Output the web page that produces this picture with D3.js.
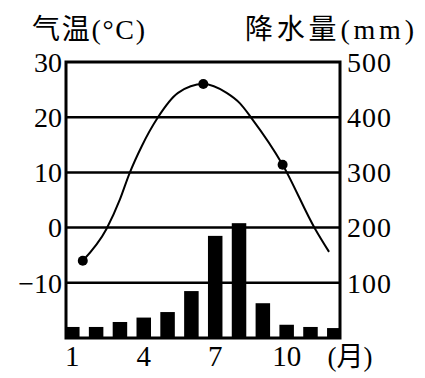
<!DOCTYPE html>
<html>
<head>
<meta charset="utf-8">
<script src="https://cdn.jsdelivr.net/npm/d3@7"></script>
<style>
  body { margin: 0; background: white; }
  text { font-family: "Liberation Serif", "Noto Sans CJK SC", serif; }
</style>
</head>
<body>
<div id="canvas"></div>
<script>
"use strict"

/* data: monthly precipitation (mm) */
let months = [1, 2, 3, 4, 5, 6, 7, 8, 9, 10, 11, 12];
let precip = [20, 20, 29, 37, 47, 85, 185, 208, 63, 24, 20, 18];

/* temperature curve (month position, deg C) */
let curveMonth = [1.44, 2.44, 3.0, 3.39, 3.91, 4.57, 5.44, 6.5, 7.48, 8.04, 8.53, 9.83, 11.19, 11.78];
let curveTemp = [-6, -0.2, 5.1, 9.7, 14.7, 19.8, 24.4, 26, 24.4, 22.5, 19.8, 11.4, -0.2, -4.4];

/* marked points on the curve */
let dotMonth = [1.44, 6.5, 9.83];
let dotTemp = [-6, 26, 11.4];

/* tick labels */
let tempTicks = [30, 20, 10, 0, -10];
let precipTicks = [500, 400, 300, 200, 100];
let monthTicks = [1, 4, 7, 10];

/* drawing config */
let svgWidth = 425;
let svgHeight = 378;
let plotLeft = 66, plotRight = 340, plotTop = 62, plotBottom = 338;

let svg = d3.select("#canvas")
    .append("svg")
    .attr("width", svgWidth)
    .attr("height", svgHeight);

/* scales */
let xScale = d3.scaleLinear()
    .domain([1, 12])
    .range([72.3, 334.3]);

let tScale = d3.scaleLinear()
    .domain([-20, 30])
    .range([plotBottom, plotTop]);

let pScale = d3.scaleLinear()
    .domain([0, 500])
    .range([plotBottom, plotTop]);

/* clip for the bars */
svg.append("clipPath")
    .attr("id", "plotClip")
    .append("rect")
    .attr("x", plotLeft)
    .attr("y", plotTop)
    .attr("width", plotRight - plotLeft)
    .attr("height", plotBottom - plotTop);

/* precipitation bars */
let barWidth = 14.5;
svg.append("g")
    .attr("clip-path", "url(#plotClip)")
    .selectAll("rect")
    .data(months)
    .join("rect")
    .attr("x", (m) => xScale(m) - barWidth / 2)
    .attr("y", (m, i) => pScale(precip[i]))
    .attr("width", barWidth)
    .attr("height", (m, i) => plotBottom - pScale(precip[i]))
    .attr("fill", "black");

/* horizontal grid lines */
svg.selectAll(".grid")
    .data([20, 10, 0, -10])
    .join("line")
    .attr("class", "grid")
    .attr("x1", plotLeft)
    .attr("x2", plotRight)
    .attr("y1", (t) => tScale(t))
    .attr("y2", (t) => tScale(t))
    .attr("stroke", "black")
    .attr("stroke-width", 2.5);

/* frame */
svg.append("rect")
    .attr("x", plotLeft)
    .attr("y", plotTop)
    .attr("width", plotRight - plotLeft)
    .attr("height", plotBottom - plotTop)
    .attr("fill", "none")
    .attr("stroke", "black")
    .attr("stroke-width", 3);

/* temperature curve */
let curvePoints = curveMonth.map((m, i) => [m, curveTemp[i]]);
let line = d3.line()
    .x((d) => xScale(d[0]))
    .y((d) => tScale(d[1]))
    .curve(d3.curveMonotoneX);

svg.append("path")
    .attr("d", line(curvePoints))
    .attr("fill", "none")
    .attr("stroke", "black")
    .attr("stroke-width", 2);

svg.selectAll(".dot")
    .data(dotMonth)
    .join("circle")
    .attr("class", "dot")
    .attr("cx", (m) => xScale(m))
    .attr("cy", (m, i) => tScale(dotTemp[i]))
    .attr("r", 5)
    .attr("fill", "black");

/* left tick labels */
svg.selectAll(".tlab")
    .data(tempTicks)
    .join("text")
    .attr("class", "tlab")
    .attr("x", 62)
    .attr("y", (t) => tScale(t))
    .attr("dy", "0.35em")
    .attr("text-anchor", "end")
    .attr("font-size", 28)
    .text((t) => t < 0 ? "\u2212" + Math.abs(t) : t);

/* right tick labels */
svg.selectAll(".plab")
    .data(precipTicks)
    .join("text")
    .attr("class", "plab")
    .attr("x", 347)
    .attr("y", (p) => pScale(p))
    .attr("dy", "0.35em")
    .attr("text-anchor", "start")
    .attr("font-size", 28)
    .attr("letter-spacing", 1)
    .text((p) => p);

/* month labels */
svg.selectAll(".mlab")
    .data(monthTicks)
    .join("text")
    .attr("class", "mlab")
    .attr("x", (m) => xScale(m))
    .attr("y", 366)
    .attr("text-anchor", "middle")
    .attr("font-size", 29)
    .text((m) => m);

svg.append("text")
    .attr("x", 350)
    .attr("y", 366)
    .attr("text-anchor", "middle")
    .attr("font-size", 27)
    .text("(月)");

/* axis titles */
svg.append("text")
    .attr("x", 32)
    .attr("y", 39)
    .attr("font-size", 28)
    .attr("textLength", 113)
    .attr("lengthAdjust", "spacing")
    .text("气温(°C)");

svg.append("text")
    .attr("x", 245)
    .attr("y", 39)
    .attr("font-size", 28)
    .attr("textLength", 169)
    .attr("lengthAdjust", "spacing")
    .text("降水量(mm)");
</script>
</body>
</html>
